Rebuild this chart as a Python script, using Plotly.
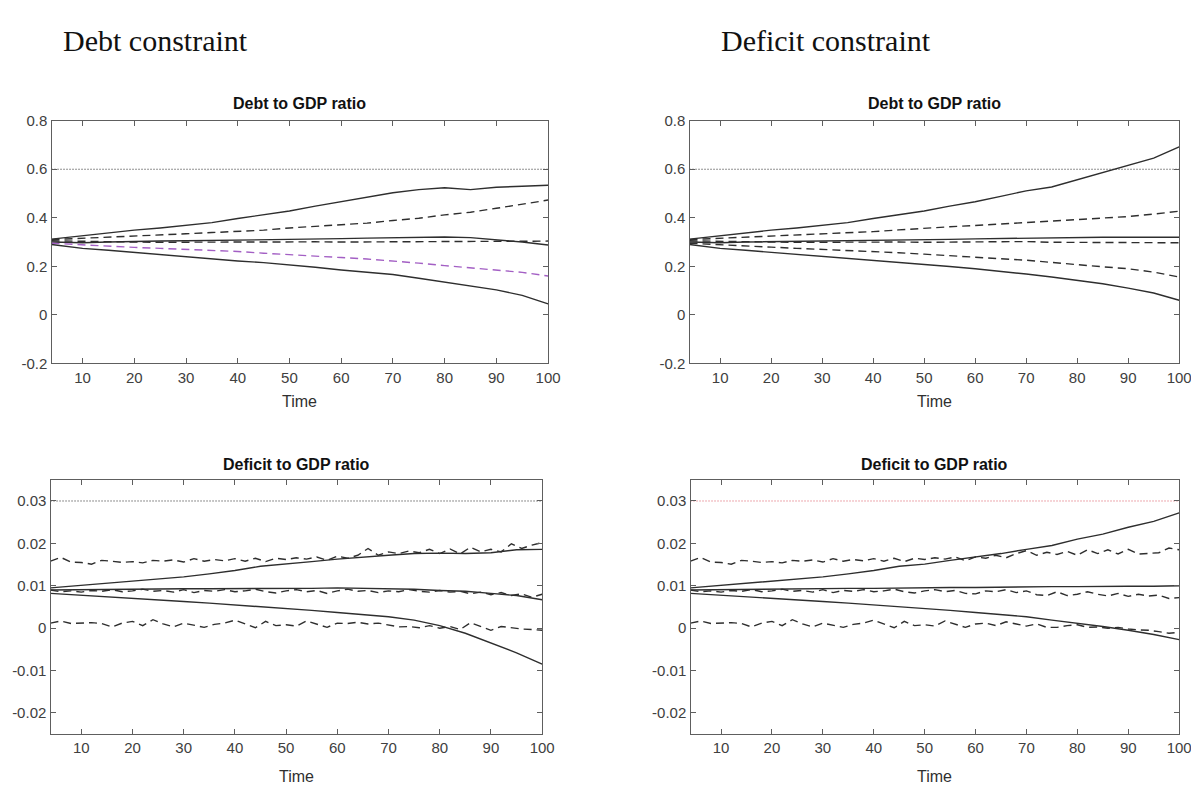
import plotly.graph_objects as go

# ---------------- data ----------------
t_smooth = [4, 10, 15, 20, 25, 30, 35, 40, 45, 50, 55, 60, 65, 70, 75, 80, 85, 90, 95, 100]
t_noisy = list(range(4, 101, 2))

# Debt constraint - Debt to GDP ratio
debtc_debt_up_solid = [0.312, 0.327, 0.338, 0.349, 0.358, 0.369, 0.380, 0.397, 0.412, 0.428, 0.448, 0.466, 0.483, 0.503, 0.516, 0.524, 0.516, 0.526, 0.530, 0.534]
debtc_debt_up_dash = [0.310, 0.315, 0.320, 0.326, 0.330, 0.334, 0.339, 0.343, 0.349, 0.358, 0.364, 0.372, 0.378, 0.389, 0.398, 0.412, 0.423, 0.439, 0.455, 0.473]
debtc_debt_mid_solid = [0.300, 0.297, 0.300, 0.303, 0.304, 0.305, 0.306, 0.308, 0.308, 0.310, 0.312, 0.314, 0.316, 0.318, 0.319, 0.321, 0.318, 0.310, 0.300, 0.288]
debtc_debt_mid_dash = [0.305, 0.302, 0.300, 0.300, 0.299, 0.300, 0.299, 0.300, 0.300, 0.299, 0.301, 0.300, 0.301, 0.299, 0.302, 0.301, 0.302, 0.303, 0.303, 0.304]
debtc_debt_lo_dash = [0.295, 0.288, 0.283, 0.278, 0.274, 0.270, 0.266, 0.261, 0.254, 0.247, 0.242, 0.236, 0.230, 0.223, 0.213, 0.203, 0.194, 0.185, 0.175, 0.160]
debtc_debt_lo_solid = [0.290, 0.274, 0.266, 0.257, 0.247, 0.238, 0.230, 0.222, 0.215, 0.207, 0.196, 0.185, 0.176, 0.166, 0.151, 0.134, 0.120, 0.103, 0.080, 0.045]

# Deficit constraint - Debt to GDP ratio
defc_debt_up_solid = [0.312, 0.327, 0.338, 0.349, 0.358, 0.369, 0.380, 0.397, 0.412, 0.428, 0.448, 0.466, 0.488, 0.511, 0.527, 0.557, 0.584, 0.615, 0.646, 0.692]
defc_debt_up_dash = [0.310, 0.315, 0.320, 0.324, 0.329, 0.333, 0.338, 0.343, 0.350, 0.358, 0.363, 0.368, 0.374, 0.380, 0.386, 0.393, 0.398, 0.405, 0.415, 0.427]
defc_debt_mid_solid = [0.300, 0.297, 0.300, 0.301, 0.302, 0.303, 0.305, 0.307, 0.308, 0.310, 0.311, 0.313, 0.315, 0.316, 0.318, 0.320, 0.320, 0.320, 0.320, 0.320]
defc_debt_mid_dash = [0.305, 0.302, 0.300, 0.300, 0.299, 0.300, 0.299, 0.300, 0.300, 0.299, 0.300, 0.299, 0.300, 0.302, 0.299, 0.298, 0.299, 0.298, 0.298, 0.297]
defc_debt_lo_dash = [0.295, 0.288, 0.283, 0.279, 0.274, 0.270, 0.266, 0.262, 0.256, 0.250, 0.244, 0.238, 0.232, 0.225, 0.216, 0.206, 0.198, 0.190, 0.176, 0.156]
defc_debt_lo_solid = [0.290, 0.274, 0.266, 0.258, 0.249, 0.240, 0.232, 0.224, 0.217, 0.208, 0.199, 0.190, 0.180, 0.168, 0.156, 0.142, 0.128, 0.110, 0.090, 0.060]

# Debt constraint - Deficit to GDP ratio
debtc_def_up_solid = [0.0095, 0.0101, 0.0106, 0.0111, 0.0116, 0.0121, 0.0128, 0.0136, 0.0146, 0.0151, 0.0157, 0.0163, 0.0168, 0.0172, 0.0176, 0.0177, 0.0176, 0.0178, 0.0185, 0.0186]
debtc_def_mid_solid = [0.0090, 0.0091, 0.0091, 0.0092, 0.0092, 0.0093, 0.0093, 0.0093, 0.0093, 0.0094, 0.0094, 0.0095, 0.0094, 0.0094, 0.0092, 0.0089, 0.0087, 0.0082, 0.0077, 0.0067]
debtc_def_lo_solid = [0.0082, 0.0078, 0.0074, 0.0071, 0.0067, 0.0063, 0.0059, 0.0055, 0.0051, 0.0047, 0.0042, 0.0037, 0.0032, 0.0027, 0.0019, 0.0006, -0.0012, -0.0035, -0.0058, -0.0085]
debtc_def_up_dash = [0.0158, 0.0167, 0.0156, 0.0155, 0.0151, 0.0160, 0.0158, 0.0155, 0.0157, 0.0154,
                     0.0160, 0.0158, 0.0161, 0.0156, 0.0164, 0.0158, 0.0162, 0.0159, 0.0164, 0.0158,
                     0.0165, 0.0157, 0.0165, 0.0162, 0.0166, 0.0163, 0.0168, 0.0160, 0.0170, 0.0165,
                     0.0172, 0.0188, 0.0172, 0.0180, 0.0176, 0.0182, 0.0178, 0.0186, 0.0176, 0.0187,
                     0.0175, 0.0191, 0.0180, 0.0186, 0.0180, 0.0199, 0.0188, 0.0196, 0.0202]
debtc_def_mid_dash = [0.0090, 0.0086, 0.0088, 0.0085, 0.0089, 0.0087, 0.0091, 0.0086, 0.0088, 0.0092,
                      0.0087, 0.0089, 0.0085, 0.0091, 0.0084, 0.0089, 0.0087, 0.0091, 0.0086, 0.0088,
                      0.0092, 0.0086, 0.0083, 0.0088, 0.0091, 0.0086, 0.0089, 0.0082, 0.0088, 0.0092,
                      0.0087, 0.0089, 0.0084, 0.0088, 0.0086, 0.0091, 0.0087, 0.0085, 0.0089, 0.0085,
                      0.0087, 0.0081, 0.0085, 0.0079, 0.0084, 0.0077, 0.0081, 0.0073, 0.0080]
debtc_def_lo_dash = [0.0012, 0.0017, 0.0011, 0.0012, 0.0013, 0.0011, 0.0003, 0.0012, 0.0016, 0.0006,
                     0.0020, 0.0010, 0.0003, 0.0012, 0.0007, 0.0002, 0.0009, 0.0012, 0.0019, 0.0010,
                     0.0001, 0.0016, 0.0006, 0.0008, 0.0005, 0.0017, 0.0010, 0.0002, 0.0012, 0.0011,
                     0.0014, 0.0010, 0.0012, 0.0008, 0.0003, 0.0004, 0.0001, 0.0006, 0.0000, 0.0004,
                     -0.0003, 0.0013, 0.0004, -0.0005, 0.0004, 0.0001, -0.0002, -0.0003, -0.0005]

# Deficit constraint - Deficit to GDP ratio
defc_def_up_solid = [0.0095, 0.0101, 0.0106, 0.0111, 0.0116, 0.0121, 0.0128, 0.0136, 0.0146, 0.0151, 0.0160, 0.0168, 0.0176, 0.0186, 0.0195, 0.0210, 0.0222, 0.0238, 0.0252, 0.0272]
defc_def_mid_solid = [0.0090, 0.0091, 0.0092, 0.0092, 0.0093, 0.0093, 0.0094, 0.0094, 0.0095, 0.0095, 0.0096, 0.0096, 0.0097, 0.0097, 0.0098, 0.0098, 0.0099, 0.0099, 0.0099, 0.0100]
defc_def_lo_solid = [0.0082, 0.0078, 0.0074, 0.0071, 0.0067, 0.0063, 0.0059, 0.0055, 0.0051, 0.0047, 0.0042, 0.0037, 0.0032, 0.0027, 0.0019, 0.0012, 0.0004, -0.0005, -0.0015, -0.0027]
defc_def_up_dash = [0.0158, 0.0167, 0.0156, 0.0155, 0.0151, 0.0160, 0.0158, 0.0155, 0.0157, 0.0154,
                    0.0160, 0.0158, 0.0161, 0.0156, 0.0164, 0.0158, 0.0162, 0.0159, 0.0164, 0.0158,
                    0.0165, 0.0157, 0.0165, 0.0162, 0.0166, 0.0163, 0.0168, 0.0159, 0.0168, 0.0165,
                    0.0172, 0.0166, 0.0176, 0.0183, 0.0172, 0.0179, 0.0174, 0.0181, 0.0172, 0.0185,
                    0.0176, 0.0185, 0.0175, 0.0186, 0.0175, 0.0176, 0.0178, 0.0189, 0.0185]
defc_def_mid_dash = [0.0090, 0.0086, 0.0088, 0.0085, 0.0089, 0.0087, 0.0091, 0.0086, 0.0088, 0.0092,
                     0.0087, 0.0089, 0.0085, 0.0091, 0.0084, 0.0089, 0.0087, 0.0091, 0.0086, 0.0088,
                     0.0092, 0.0086, 0.0083, 0.0088, 0.0091, 0.0086, 0.0089, 0.0082, 0.0081, 0.0088,
                     0.0086, 0.0091, 0.0084, 0.0088, 0.0079, 0.0077, 0.0086, 0.0077, 0.0080, 0.0086,
                     0.0080, 0.0076, 0.0082, 0.0075, 0.0080, 0.0076, 0.0078, 0.0070, 0.0072]
defc_def_lo_dash = [0.0012, 0.0017, 0.0011, 0.0012, 0.0013, 0.0011, 0.0003, 0.0012, 0.0016, 0.0006,
                    0.0020, 0.0010, 0.0003, 0.0012, 0.0007, 0.0002, 0.0009, 0.0012, 0.0019, 0.0010,
                    0.0001, 0.0016, 0.0006, 0.0008, 0.0005, 0.0017, 0.0010, 0.0002, 0.0010, 0.0012,
                    0.0006, 0.0015, 0.0010, 0.0005, 0.0010, 0.0002, 0.0002, 0.0006, 0.0008, 0.0002,
                    0.0003, 0.0000, 0.0002, -0.0002, -0.0004, -0.0005, -0.0008, -0.0012, -0.0010]

debt_limit = 0.6
deficit_limit = 0.03

x_ticks = [10, 20, 30, 40, 50, 60, 70, 80, 90, 100]
debt_ticks = [-0.2, 0, 0.2, 0.4, 0.6, 0.8]
debt_tick_text = ["-0.2", "0", "0.2", "0.4", "0.6", "0.8"]
def_ticks = [-0.02, -0.01, 0, 0.01, 0.02, 0.03]
def_tick_text = ["-0.02", "-0.01", "0", "0.01", "0.02", "0.03"]

headers = ["Debt constraint", "Deficit constraint"]
titles = ["Debt to GDP ratio", "Deficit to GDP ratio"]

# ---------------- figure ----------------
W, H = 1199, 788
LINE = "#2e2e2e"
PURPLE = "#a35fc4"
RED = "#d8505e"
FONT = "Liberation Sans Narrow, Liberation Sans, Arial"

fig = go.Figure()

def px_x(a, b):
    return [a / W, b / W]

def px_y(top, bottom):
    return [1 - bottom / H, 1 - top / H]

panels = [
    ("x", "y", px_x(44, 546), px_y(106, 354)),
    ("x2", "y2", px_x(689, 1184), px_y(106, 354)),
    ("x3", "y3", px_x(43, 540), px_y(473, 733)),
    ("x4", "y4", px_x(690, 1184), px_y(473, 733)),
]

SOLID = dict(color=LINE, width=1.4)
DASHED = dict(color=LINE, width=1.4, dash="8px,5px")

def add(xa, ya, x, y, line):
    fig.add_trace(go.Scatter(x=x, y=y, mode="lines", line=line, xaxis=xa, yaxis=ya,
                             showlegend=False, hoverinfo="skip"))

# Panel 1
add("x", "y", [4, 100], [debt_limit, debt_limit], dict(color="#202020", width=1, dash="1px,2px"))
add("x", "y", t_smooth, debtc_debt_up_solid, SOLID)
add("x", "y", t_smooth, debtc_debt_up_dash, DASHED)
add("x", "y", t_smooth, debtc_debt_mid_solid, SOLID)
add("x", "y", t_smooth, debtc_debt_mid_dash, DASHED)
add("x", "y", t_smooth, debtc_debt_lo_dash, dict(color=PURPLE, width=1.4, dash="8px,5px"))
add("x", "y", t_smooth, debtc_debt_lo_solid, SOLID)

# Panel 2
add("x2", "y2", [4, 100], [debt_limit, debt_limit], dict(color="#202020", width=1, dash="1px,2px"))
add("x2", "y2", t_smooth, defc_debt_up_solid, SOLID)
add("x2", "y2", t_smooth, defc_debt_up_dash, DASHED)
add("x2", "y2", t_smooth, defc_debt_mid_solid, SOLID)
add("x2", "y2", t_smooth, defc_debt_mid_dash, DASHED)
add("x2", "y2", t_smooth, defc_debt_lo_dash, DASHED)
add("x2", "y2", t_smooth, defc_debt_lo_solid, SOLID)

# Panel 3
add("x3", "y3", [4, 100], [deficit_limit, deficit_limit], dict(color="#202020", width=1, dash="1px,2px"))
add("x3", "y3", t_noisy, debtc_def_up_dash, DASHED)
add("x3", "y3", t_noisy, debtc_def_mid_dash, DASHED)
add("x3", "y3", t_noisy, debtc_def_lo_dash, DASHED)
add("x3", "y3", t_smooth, debtc_def_up_solid, SOLID)
add("x3", "y3", t_smooth, debtc_def_mid_solid, SOLID)
add("x3", "y3", t_smooth, debtc_def_lo_solid, SOLID)

# Panel 4
add("x4", "y4", [4, 100], [deficit_limit, deficit_limit], dict(color=RED, width=1, dash="1px,2px"))
add("x4", "y4", t_noisy, defc_def_up_dash, DASHED)
add("x4", "y4", t_noisy, defc_def_mid_dash, DASHED)
add("x4", "y4", t_noisy, defc_def_lo_dash, DASHED)
add("x4", "y4", t_smooth, defc_def_up_solid, SOLID)
add("x4", "y4", t_smooth, defc_def_mid_solid, SOLID)
add("x4", "y4", t_smooth, defc_def_lo_solid, SOLID)

axis_common = dict(showline=True, linecolor="#5e5e5e", linewidth=1.4, mirror="ticks",
                   ticks="inside", ticklen=5, tickcolor="#5e5e5e", tickwidth=1,
                   showgrid=False, zeroline=False, fixedrange=True,
                   tickfont=dict(family=FONT, size=15, color="#404040"))

layout_axes = {}
for i, (xa, ya, xd, yd) in enumerate(panels):
    xk = "xaxis" if xa == "x" else "xaxis" + xa[1:]
    yk = "yaxis" if ya == "y" else "yaxis" + ya[1:]
    is_debt = i < 2
    layout_axes[xk] = dict(axis_common, domain=xd, range=[4, 100], anchor=ya,
                           tickvals=x_ticks, ticktext=[str(v) for v in x_ticks])
    layout_axes[yk] = dict(axis_common, domain=yd, anchor=xa,
                           range=[-0.2, 0.8] if is_debt else [-0.025, 0.035],
                           tickvals=debt_ticks if is_debt else def_ticks,
                           ticktext=debt_tick_text if is_debt else def_tick_text)

fig.update_layout(width=W, height=H, margin=dict(l=0, r=0, t=0, b=0),
                  paper_bgcolor="white", plot_bgcolor="white", showlegend=False,
                  **layout_axes)

ann = []
for k, hx in enumerate([54, 719]):
    ann.append(dict(text=headers[k], x=hx / W, y=1 - 24 / H, xref="paper", yref="paper",
                    xanchor="left", yanchor="middle", showarrow=False,
                    font=dict(family="Liberation Serif, Times New Roman, serif", size=30, color="#111")))

title_y = [88, 88, 457, 457]
time_y = [393, 393, 776, 776]
for i, (xa, ya, xd, yd) in enumerate(panels):
    cx = (xd[0] + xd[1]) / 2
    ann.append(dict(text="<b>" + titles[0 if i < 2 else 1] + "</b>", x=cx, y=1 - title_y[i] / H,
                    xref="paper", yref="paper", xanchor="center", yanchor="middle", showarrow=False,
                    font=dict(family=FONT, size=16, color="#111")))
    ann.append(dict(text="Time", x=cx, y=1 - time_y[i] / H,
                    xref="paper", yref="paper", xanchor="center", yanchor="middle", showarrow=False,
                    font=dict(family=FONT, size=16, color="#303030")))
fig.update_layout(annotations=ann)

fig.write_html("out.html")
